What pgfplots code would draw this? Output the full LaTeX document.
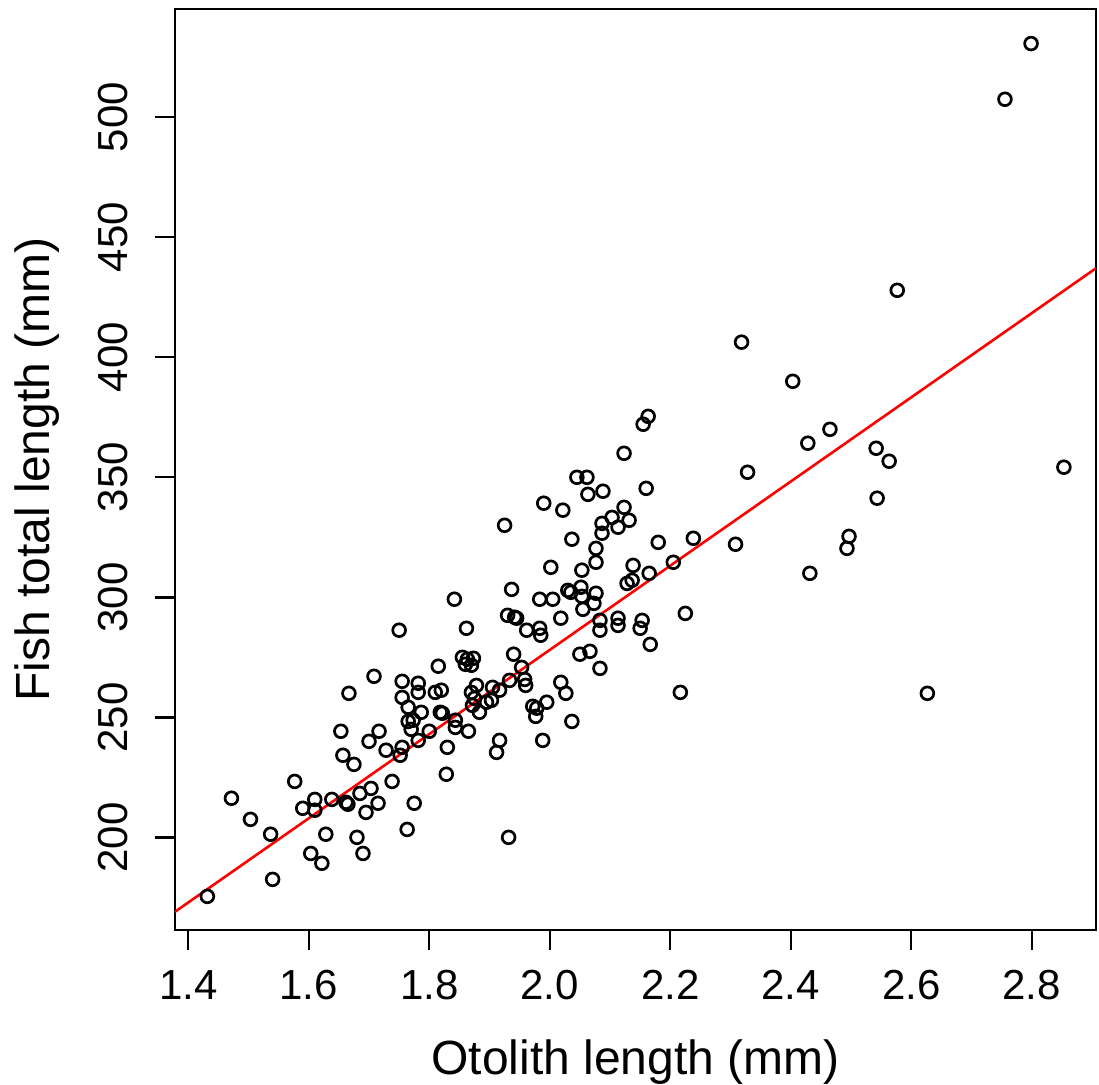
\documentclass[border=0pt]{standalone}
\usepackage{fontspec}
\setmainfont{Liberation Sans}
\usepackage{pgfplots}
\usepackage{pgfplotstable}
\pgfplotsset{compat=1.18}
\pgfplotstableread{
x y
1.4317 175.4
1.4717 216.3
1.5033 207.5
1.5367 201.3
1.5400 182.5
1.5767 223.3
1.5900 212.1
1.6100 215.8
1.6100 211.3
1.6033 193.3
1.6217 189.2
1.6283 201.3
1.6383 215.8
1.6533 244.2
1.6567 234.2
1.6667 260.0
1.6617 214.6
1.6650 213.8
1.6750 230.4
1.6800 200.0
1.6850 218.3
1.6900 193.3
1.6950 210.4
1.7000 240.0
1.7033 220.4
1.7083 267.1
1.7150 214.2
1.7167 244.2
1.7283 236.3
1.7383 223.3
1.7517 234.2
1.7550 237.5
1.7550 265.0
1.7550 258.3
1.7633 203.3
1.7650 254.2
1.7650 248.3
1.7700 245.0
1.7733 248.8
1.7750 214.2
1.7817 264.2
1.7817 260.4
1.7817 240.4
1.7867 252.1
1.8000 244.2
1.8100 260.4
1.8200 261.3
1.8150 271.3
1.8183 252.1
1.8217 251.7
1.8300 237.5
1.8283 226.3
1.8433 248.8
1.8433 245.8
1.8550 275.0
1.8633 274.2
1.8733 274.6
1.8600 272.1
1.8700 271.7
1.7500 286.3
1.8417 299.2
1.8617 287.1
1.8650 244.2
2.0017 312.5
2.0533 311.3
2.0767 314.6
2.1383 313.3
2.1650 310.0
2.2050 314.6
1.9367 303.3
2.0300 302.9
2.0350 302.1
2.0517 304.2
2.0767 301.7
2.1283 305.8
2.1367 307.1
1.9833 299.2
2.0050 299.2
2.0533 300.4
2.0733 297.5
2.0550 295.0
1.9300 292.5
1.9417 291.7
1.9450 291.3
2.0183 291.3
1.9617 286.3
1.9833 287.1
1.9850 284.2
2.0833 290.4
2.0833 286.3
2.1133 291.3
2.1133 288.3
2.1533 290.4
2.1500 287.1
2.2250 293.3
2.1667 280.4
2.0500 276.3
2.0667 277.5
2.0833 270.4
1.9400 276.3
1.9533 270.8
1.9333 265.4
1.9583 265.8
1.9600 263.3
2.0183 264.6
2.0267 260.0
2.2167 260.4
1.8783 263.3
1.9050 262.5
1.9167 261.3
1.8700 260.4
1.8950 256.3
1.9033 257.1
1.8750 257.9
1.8717 255.0
1.8833 252.1
1.9717 254.6
1.9783 253.8
1.9767 250.4
1.9950 256.3
2.0367 248.3
1.9883 240.4
1.9167 240.4
1.9117 235.4
1.9317 200.0
2.1633 375.4
2.1550 372.1
2.1233 360.0
2.0450 350.0
2.0617 350.0
2.1600 345.4
2.0633 342.9
2.0883 344.2
1.9900 339.2
2.0217 336.3
2.1233 337.5
2.1033 333.3
2.0867 330.8
2.0867 326.7
2.1133 329.2
2.1317 332.1
1.9250 330.0
2.0367 324.2
2.1800 322.9
2.2383 324.6
2.0767 320.4
2.5767 427.9
2.3183 406.3
2.4033 390.0
2.4650 370.0
2.4283 364.2
2.3283 352.1
2.5417 362.1
2.5633 356.7
2.8533 354.2
2.5433 341.3
2.4967 325.4
2.4933 320.4
2.3083 322.1
2.4317 310.0
2.6267 260.0
2.7988 530.7
2.7555 507.5
}\fishdata
\begin{document}
\begin{tikzpicture}
\path[use as bounding box] (-175pt,-154pt) rectangle (924pt,930pt);
\begin{axis}[
  at={(0pt,0pt)}, anchor=south west,
  width=921pt, height=921pt, scale only axis,
  xmin=1.378, xmax=2.9066, ymin=161.4, ymax=545.1,
  axis line style={line width=2.4pt},
  xtick={1.4,1.6,1.8,2.0,2.2,2.4,2.6,2.8},
  ytick={200,250,300,350,400,450,500},
  tick align=outside, major tick length=20pt,
  tick style={line width=2.4pt, black},
  xtick pos=bottom, ytick pos=left,
  /pgf/number format/assume math mode=true,
  x tick label style={font=\fontsize{42}{42}\selectfont, inner sep=0pt,
    /pgf/number format/.cd, fixed, fixed zerofill, precision=1},
  y tick label style={font=\fontsize{42}{42}\selectfont, inner sep=0pt, rotate=90},
  xticklabel shift=20pt, yticklabel shift=27pt,
]
\addplot[only marks, mark=o, mark size=6.4pt, mark options={line width=2.7pt, black}] table[x=x, y=y] {\fishdata};
\addplot[red, line width=2.6pt] coordinates {(1.378,169.0) (2.9066,437.1)};
\end{axis}
\node[anchor=base, font=\fontsize{48}{48}\selectfont] at (460.5pt,-144pt) {Otolith length (mm)};
\node[anchor=base, rotate=90, font=\fontsize{48}{48}\selectfont] at (-125pt,460.5pt) {Fish total length (mm)};
\end{tikzpicture}
\end{document}
